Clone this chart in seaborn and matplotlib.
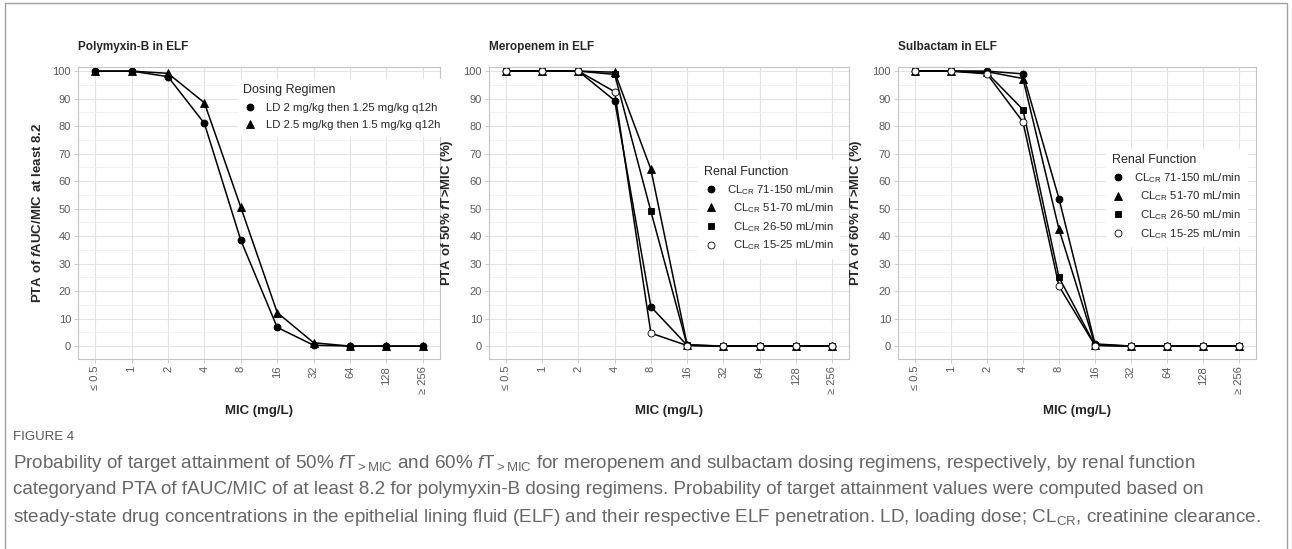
import matplotlib
matplotlib.use('Agg')
import matplotlib.pyplot as plt
import seaborn as sns
from matplotlib.lines import Line2D
from matplotlib.patches import Rectangle
from matplotlib.ticker import MultipleLocator

mic_labels = ['≤ 0.5', '1', '2', '4', '8', '16', '32', '64', '128', '≥ 256']
x_pos = list(range(len(mic_labels)))

# Polymyxin-B
poly_ld2 = [100, 100, 98.0, 81.0, 38.5, 6.8, 0.3, 0, 0, 0]
poly_ld25 = [100, 100, 99.2, 88.5, 50.5, 12.2, 1.2, 0, 0, 0]
poly_labels = ['LD 2 mg/kg then 1.25 mg/kg q12h', 'LD 2.5 mg/kg then 1.5 mg/kg q12h']

# Meropenem
mero_71_150 = [100, 100, 100, 89.3, 14.3, 0.3, 0, 0, 0, 0]
mero_51_70 = [100, 100, 100, 99.6, 64.3, 0.5, 0, 0, 0, 0]
mero_26_50 = [100, 100, 100, 98.8, 49.0, 0.3, 0, 0, 0, 0]
mero_15_25 = [100, 100, 100, 92.5, 4.7, 0.2, 0, 0, 0, 0]

# Sulbactam
sulb_71_150 = [100, 100, 100, 99.0, 53.6, 0.8, 0, 0, 0, 0]
sulb_51_70 = [100, 100, 99.8, 97.3, 42.5, 0.5, 0, 0, 0, 0]
sulb_26_50 = [100, 100, 99.4, 86.0, 25.0, 0.3, 0, 0, 0, 0]
sulb_15_25 = [100, 100, 99.0, 81.5, 21.8, 0.2, 0, 0, 0, 0]

renal_labels = [r'$\mathrm{CL}_{\mathrm{CR}}$ 71-150 mL/min',
                r'  $\mathrm{CL}_{\mathrm{CR}}$ 51-70 mL/min',
                r'  $\mathrm{CL}_{\mathrm{CR}}$ 26-50 mL/min',
                r'  $\mathrm{CL}_{\mathrm{CR}}$ 15-25 mL/min']

# marker, size, face colour
styles = [('o', 5.0, 'black'), ('^', 5.5, 'black'), ('s', 4.8, 'black'), ('o', 5.0, 'white')]

sns.set_theme(style='whitegrid')
plt.rcParams['font.family'] = ['Liberation Sans', 'DejaVu Sans']
plt.rcParams['mathtext.fontset'] = 'custom'
plt.rcParams['mathtext.rm'] = 'Liberation Sans'
plt.rcParams['mathtext.it'] = 'Liberation Sans:italic'
plt.rcParams['mathtext.bf'] = 'Liberation Sans:bold'
plt.rcParams['mathtext.bfit'] = 'Liberation Sans:italic:bold'

W, H = 1292, 549
fig = plt.figure(figsize=(W / 100, H / 100), dpi=100)


def px_axes(left, right, top=67, bottom=359):
    return fig.add_axes([left / W, 1 - bottom / H, (right - left) / W, (bottom - top) / H])


def draw_panel(ax, series, labels, title, ylabel, legend_title, anchor, spacing):
    for vals, (m, ms, fc) in zip(series, styles):
        sns.lineplot(x=x_pos, y=vals, ax=ax, color='black', linewidth=1.1,
                     marker=m, markersize=ms, markerfacecolor=fc,
                     markeredgecolor='black', markeredgewidth=0.6)
    ax.set_xlim(-0.47, 9.47)
    ax.set_ylim(-4.7, 101.5)
    ax.set_xticks(x_pos)
    ax.set_xticklabels(mic_labels, rotation=90)
    ax.yaxis.set_major_locator(MultipleLocator(10))
    ax.yaxis.set_minor_locator(MultipleLocator(5))
    ax.grid(which='major', color='#e3e3e3', linewidth=0.8)
    ax.grid(which='minor', axis='y', color='#f0f0f0', linewidth=0.6)
    ax.set_axisbelow(True)
    for sp in ax.spines.values():
        sp.set_color('#c4c4c4')
        sp.set_linewidth(0.8)
    ax.tick_params(axis='both', which='major', labelsize=8, labelcolor='#5a5a5a',
                   color='#c4c4c4', length=3, width=0.6, pad=2, bottom=True, left=True)
    ax.tick_params(which='minor', length=0)
    ax.set_xlabel('MIC (mg/L)', fontsize=9.5, fontweight='bold', labelpad=8)
    ax.set_ylabel(ylabel, fontsize=9.5, fontweight='bold', labelpad=6)
    ax.set_title(title, loc='left', fontsize=8.5, fontweight='bold', pad=12)
    handles = [Line2D([], [], linestyle='none', marker=m, markersize=ms,
                      markerfacecolor=fc, markeredgecolor='black', markeredgewidth=0.6)
               for (m, ms, fc), _ in zip(styles, labels)]
    leg = ax.legend(handles, labels, title=legend_title, loc='upper left',
                    bbox_to_anchor=anchor, fontsize=8.2, title_fontsize=9,
                    frameon=True, facecolor='white', edgecolor='white', framealpha=1,
                    fancybox=False, labelspacing=spacing, handlelength=1.2,
                    handletextpad=0.8, borderpad=0.5)
    leg._legend_box.align = 'left'


ax1 = px_axes(78, 440)
draw_panel(ax1, [poly_ld2, poly_ld25], poly_labels, 'Polymyxin-B in ELF',
           r'PTA of $\mathbfit{f}$AUC/MIC at least 8.2', 'Dosing Regimen', (0.425, 0.98), 0.6)

ax2 = px_axes(489, 849)
draw_panel(ax2, [mero_71_150, mero_51_70, mero_26_50, mero_15_25], renal_labels,
           'Meropenem in ELF', r'PTA of 50% $\mathbfit{f}$T>MIC (%)', 'Renal Function', (0.565, 0.70), 0.42)

ax3 = px_axes(898, 1256)
draw_panel(ax3, [sulb_71_150, sulb_51_70, sulb_26_50, sulb_15_25], renal_labels,
           'Sulbactam in ELF', r'PTA of 60% $\mathbfit{f}$T>MIC (%)', 'Renal Function', (0.565, 0.74), 0.42)

# outer frame
fig.add_artist(Rectangle((5 / W, -0.05), (1287 - 5) / W, 1.05 - 3 / H, transform=fig.transFigure,
                         fill=False, edgecolor='#a0a0a0', linewidth=1.0))

cap_family = ['Liberation Sans', 'DejaVu Sans']
fig.text(13 / W, 1 - 437 / H, 'FIGURE 4', fontsize=9.5, color='#555555',
         family=cap_family, va='center')
caption = [
    r'Probability of target attainment of 50% $\mathit{f}\mathrm{T}_{\mathrm{>MIC}}$ and 60% '
    r'$\mathit{f}\mathrm{T}_{\mathrm{>MIC}}$ for meropenem and sulbactam dosing regimens, respectively, by renal function',
    'categoryand PTA of fAUC/MIC of at least 8.2 for polymyxin-B dosing regimens. Probability of target attainment values were computed based on',
    r'steady-state drug concentrations in the epithelial lining fluid (ELF) and their respective ELF penetration. LD, loading dose; '
    r'$\mathrm{CL}_{\mathrm{CR}}$, creatinine clearance.',
]
for i, line in enumerate(caption):
    fig.text(13 / W, 1 - (463 + 27 * i) / H, line, fontsize=13.6, color='#666666',
             family=cap_family, va='center')

fig.savefig('out.png', dpi=100)
